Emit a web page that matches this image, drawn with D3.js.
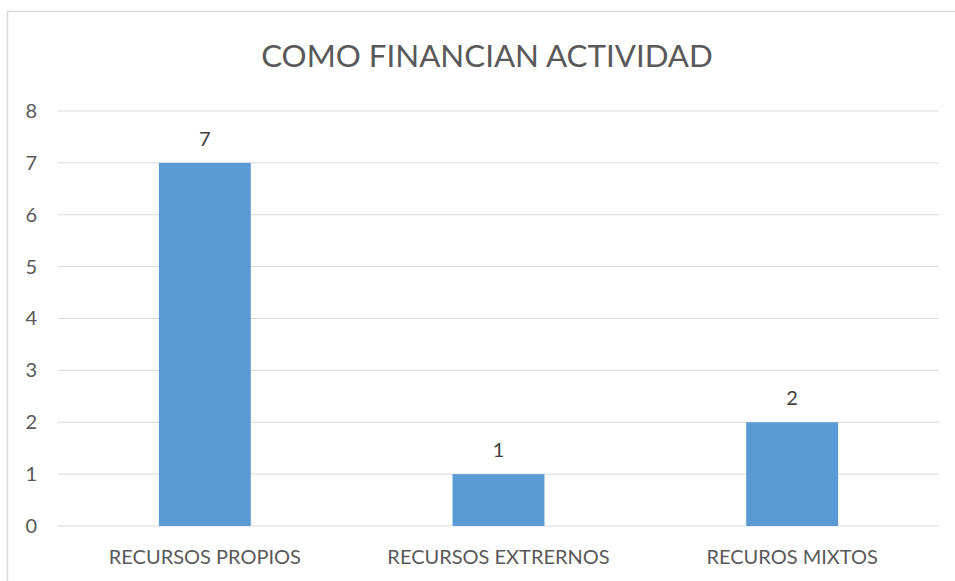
<!DOCTYPE html>
<html>
<head>
<meta charset="utf-8">
<script src="https://cdn.jsdelivr.net/npm/d3@7"></script>
<style>
  body { margin: 0; background: #fff; }
  svg { display: block; font-family: Lato, "Open Sans", sans-serif; }
</style>
</head>
<body>
<svg id="chart"></svg>
<script>
const categories = ['RECURSOS PROPIOS', 'RECURSOS EXTRERNOS', 'RECUROS MIXTOS'];
const values = [7, 1, 2];
const yTicks = [0, 1, 2, 3, 4, 5, 6, 7, 8];
const title = 'COMO FINANCIAN ACTIVIDAD';

const width = 955;
const height = 581;
const margin = { top: 111, right: 16, bottom: 55, left: 58 };
const innerW = width - margin.left - margin.right;
const innerH = height - margin.top - margin.bottom;

const svg = d3.select('#chart')
  .attr('width', width)
  .attr('height', height);

// chart frame (runs off the right and bottom edges)
svg.append('rect')
  .attr('x', 7.5)
  .attr('y', 11.5)
  .attr('width', width + 20)
  .attr('height', height + 20)
  .attr('fill', '#fff')
  .attr('stroke', '#d9d9d9')
  .attr('stroke-width', 1.5);

svg.append('text')
  .attr('x', 487)
  .attr('y', 67)
  .attr('text-anchor', 'middle')
  .attr('font-size', 31.3)
  .attr('fill', '#595959')
  .text(title);

const g = svg.append('g')
  .attr('transform', `translate(${margin.left},${margin.top})`);

const x = d3.scaleBand()
  .domain(categories)
  .range([0, innerW])
  .paddingInner(0.687)
  .paddingOuter(0.687 / 2);

const y = d3.scaleLinear()
  .domain([0, 8])
  .range([innerH, 0]);

// gridlines
g.selectAll('.grid')
  .data(yTicks)
  .enter()
  .append('line')
  .attr('class', 'grid')
  .attr('x1', 0)
  .attr('x2', innerW)
  .attr('y1', d => y(d))
  .attr('y2', d => y(d))
  .attr('stroke', '#d9d9d9')
  .attr('stroke-width', 1);

// y axis labels
const yAxis = g.append('g')
  .call(d3.axisLeft(y).tickValues(yTicks).tickSize(0).tickPadding(21));
yAxis.select('.domain').remove();
yAxis.selectAll('text')
  .attr('font-family', 'Lato, sans-serif')
  .attr('font-size', 20)
  .attr('fill', '#595959');

// x axis labels
const xAxis = g.append('g')
  .attr('transform', `translate(0,${innerH})`)
  .call(d3.axisBottom(x).tickSize(0).tickPadding(24));
xAxis.select('.domain').remove();
xAxis.selectAll('text')
  .attr('font-family', 'Lato, sans-serif')
  .attr('font-size', 20)
  .attr('fill', '#595959');

g.selectAll('.bar')
  .data(values)
  .enter()
  .append('rect')
  .attr('class', 'bar')
  .attr('x', (d, i) => x(categories[i]))
  .attr('width', x.bandwidth())
  .attr('y', d => y(d))
  .attr('height', d => innerH - y(d))
  .attr('fill', '#5b9bd5');

g.selectAll('.val')
  .data(values)
  .enter()
  .append('text')
  .attr('class', 'val')
  .attr('x', (d, i) => x(categories[i]) + x.bandwidth() / 2)
  .attr('y', d => y(d) - 17)
  .attr('text-anchor', 'middle')
  .attr('font-size', 20)
  .attr('fill', '#404040')
  .text(d => d);
</script>
</body>
</html>
